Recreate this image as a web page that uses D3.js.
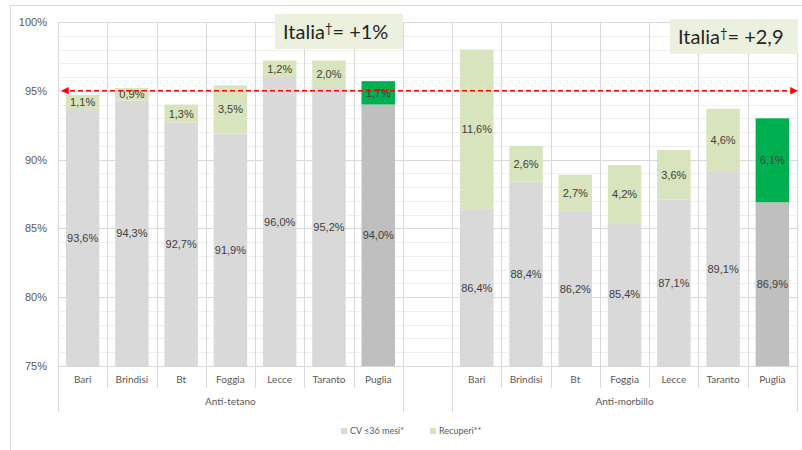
<!DOCTYPE html>
<html>
<head>
<meta charset="utf-8">
<script src="https://cdn.jsdelivr.net/npm/d3@7"></script>
<style>
  body { margin: 0; background: #fff; }
  svg { display: block; }
</style>
</head>
<body>
<div id="chart"></div>
<script>
// dati
const provinces = ['Bari', 'Brindisi', 'Bt', 'Foggia', 'Lecce', 'Taranto', 'Puglia'];
const groups = ['Anti-tetano', 'Anti-morbillo'];
const cvTetano = [93.6, 94.3, 92.7, 91.9, 96.0, 95.2, 94.0];
const recTetano = [1.1, 0.9, 1.3, 3.5, 1.2, 2.0, 1.7];
const cvMorbillo = [86.4, 88.4, 86.2, 85.4, 87.1, 89.1, 86.9];
const recMorbillo = [11.6, 2.6, 2.7, 4.2, 3.6, 4.6, 6.1];
const yTicks = [75, 80, 85, 90, 95, 100];
const target = 95;
const italiaLabels = ['+1%', '+2,9'];
const legendLabels = ['CV \u226436 mesi*', 'Recuperi**'];

const width = 802, height = 450;
const fmt = v => v.toFixed(1).replace('.', ',') + '%';

const svg = d3.select('#chart').append('svg')
  .attr('width', width)
  .attr('height', height);

// bordo esterno del grafico
svg.append('rect')
  .attr('x', 10.5).attr('y', 5.5)
  .attr('width', 800).attr('height', 450)
  .attr('fill', 'none')
  .attr('stroke', '#d9d9d9');

// slot: 7 province + vuoto + 7 province
const slots = [];
provinces.forEach((p, i) => slots.push({ key: 't' + i, label: p, group: 0, cv: cvTetano[i], rec: recTetano[i], total: i === provinces.length - 1 }));
slots.push({ key: 'gap', label: '', group: -1 });
provinces.forEach((p, i) => slots.push({ key: 'm' + i, label: p, group: 1, cv: cvMorbillo[i], rec: recMorbillo[i], total: i === provinces.length - 1 }));

const x = d3.scaleBand()
  .domain(slots.map(d => d.key))
  .range([58, 797])
  .padding(0);

const y = d3.scaleLinear()
  .domain([75, 100])
  .range([366, 22]);

const bw = x.bandwidth() * 0.68;

// griglia secondaria (1%)
const g = svg.append('g');
g.append('g')
  .selectAll('line')
  .data(d3.range(76, 100).filter(v => v % 5 !== 0))
  .join('line')
  .attr('x1', 58).attr('x2', 797)
  .attr('y1', d => Math.round(y(d)) + 0.5)
  .attr('y2', d => Math.round(y(d)) + 0.5)
  .attr('stroke', '#f0f0f0');

// griglia principale
g.append('g')
  .selectAll('line')
  .data(yTicks)
  .join('line')
  .attr('x1', 58).attr('x2', 797)
  .attr('y1', d => Math.round(y(d)) + 0.5)
  .attr('y2', d => Math.round(y(d)) + 0.5)
  .attr('stroke', '#d9d9d9');

// linee verticali tra le categorie
const bounds = slots.map(d => x(d.key)).concat([797]);
g.append('g')
  .selectAll('line')
  .data(bounds)
  .join('line')
  .attr('x1', d => Math.round(d) + 0.5)
  .attr('x2', d => Math.round(d) + 0.5)
  .attr('y1', 22)
  .attr('y2', (d, i) => {
    const groupEdge = i === 0 || i === 7 || i === 8 || i === bounds.length - 1;
    return groupEdge ? 412 : 388;
  })
  .attr('stroke', '#d9d9d9');

// etichette asse y
svg.append('g')
  .selectAll('text')
  .data(yTicks)
  .join('text')
  .attr('x', 47)
  .attr('y', d => y(d) + 4)
  .attr('text-anchor', 'end')
  .attr('font-family', 'Liberation Sans, Arial, sans-serif')
  .attr('font-size', 11)
  .attr('fill', '#595959')
  .text(d => d + '%');

const bars = slots.filter(d => d.group >= 0);

// barre CV
svg.append('g')
  .selectAll('rect')
  .data(bars)
  .join('rect')
  .attr('x', d => x(d.key) + (x.bandwidth() - bw) / 2)
  .attr('width', bw)
  .attr('y', d => y(d.cv))
  .attr('height', d => y(75) - y(d.cv))
  .attr('fill', d => d.total ? '#bfbfbf' : '#d9d9d9');

// barre recuperi
svg.append('g')
  .selectAll('rect')
  .data(bars)
  .join('rect')
  .attr('x', d => x(d.key) + (x.bandwidth() - bw) / 2)
  .attr('width', bw)
  .attr('y', d => y(d.cv + d.rec))
  .attr('height', d => y(d.cv) - y(d.cv + d.rec))
  .attr('fill', d => d.total ? '#00b050' : '#d7e4bd');

// etichette dati
const labels = svg.append('g')
  .attr('font-family', 'Liberation Sans, Arial, sans-serif')
  .attr('font-size', 11)
  .attr('fill', '#404040')
  .attr('text-anchor', 'middle');

labels.selectAll('text.cv')
  .data(bars)
  .join('text')
  .attr('class', 'cv')
  .attr('x', d => x(d.key) + x.bandwidth() / 2)
  .attr('y', d => y((75 + d.cv) / 2) + 4)
  .text(d => fmt(d.cv));

labels.selectAll('text.rec')
  .data(bars)
  .join('text')
  .attr('class', 'rec')
  .attr('x', d => x(d.key) + x.bandwidth() / 2)
  .attr('y', d => y(d.cv + d.rec / 2) + 4)
  .text(d => fmt(d.rec));

// linea obiettivo 95% con frecce
const defs = svg.append('defs');
defs.append('marker')
  .attr('id', 'arrow')
  .attr('viewBox', '0 0 10 10')
  .attr('refX', 9).attr('refY', 5)
  .attr('markerWidth', 5).attr('markerHeight', 5)
  .attr('orient', 'auto-start-reverse')
  .append('path')
  .attr('d', 'M0,0 L10,5 L0,10 z')
  .attr('fill', '#ff0000');

svg.append('line')
  .attr('x1', 62).attr('x2', 797)
  .attr('y1', y(target)).attr('y2', y(target))
  .attr('stroke', '#ff0000')
  .attr('stroke-width', 1.5)
  .attr('stroke-dasharray', '5,3')
  .attr('marker-start', 'url(#arrow)')
  .attr('marker-end', 'url(#arrow)');

// etichette categorie
svg.append('g')
  .selectAll('text')
  .data(bars)
  .join('text')
  .attr('x', d => x(d.key) + x.bandwidth() / 2)
  .attr('y', 383)
  .attr('text-anchor', 'middle')
  .attr('font-family', 'Lato, sans-serif')
  .attr('font-size', 10)
  .attr('fill', '#595959')
  .text(d => d.label);

// etichette gruppi
svg.append('g')
  .selectAll('text')
  .data(groups)
  .join('text')
  .attr('x', (d, i) => {
    const first = x(i === 0 ? 't0' : 'm0');
    const last = x(i === 0 ? 't6' : 'm6') + x.bandwidth();
    return (first + last) / 2;
  })
  .attr('y', 405)
  .attr('text-anchor', 'middle')
  .attr('font-family', 'Lato, sans-serif')
  .attr('font-size', 10)
  .attr('fill', '#595959')
  .text(d => d);

// box Italia
const boxes = [
  { x: 275, y: 14, w: 128, h: 35 },
  { x: 670, y: 19, w: 128, h: 35 }
];
boxes.forEach((b, i) => {
  svg.append('rect')
    .attr('x', b.x).attr('y', b.y)
    .attr('width', b.w).attr('height', b.h)
    .attr('fill', '#ebf1de');
  const t = svg.append('text')
    .attr('x', b.x + 8)
    .attr('y', b.y + 25)
    .attr('font-family', 'Lato, sans-serif')
    .attr('font-size', 20)
    .attr('fill', '#262626');
  t.append('tspan').text('Italia');
  t.append('tspan').attr('font-size', 13).attr('dy', -6).text('\u2020');
  t.append('tspan').attr('dy', 6).text('= ' + italiaLabels[i]);
});

// legenda
const legend = svg.append('g')
  .attr('font-family', 'Lato, sans-serif')
  .attr('font-size', 9)
  .attr('fill', '#595959');
const legendColors = ['#d9d9d9', '#d7e4bd'];
const legendX = [341, 430];
legendLabels.forEach((l, i) => {
  legend.append('rect')
    .attr('x', legendX[i]).attr('y', 428)
    .attr('width', 6).attr('height', 6)
    .attr('fill', legendColors[i]);
  legend.append('text')
    .attr('x', legendX[i] + 9)
    .attr('y', 434)
    .text(l);
});
</script>
</body>
</html>
